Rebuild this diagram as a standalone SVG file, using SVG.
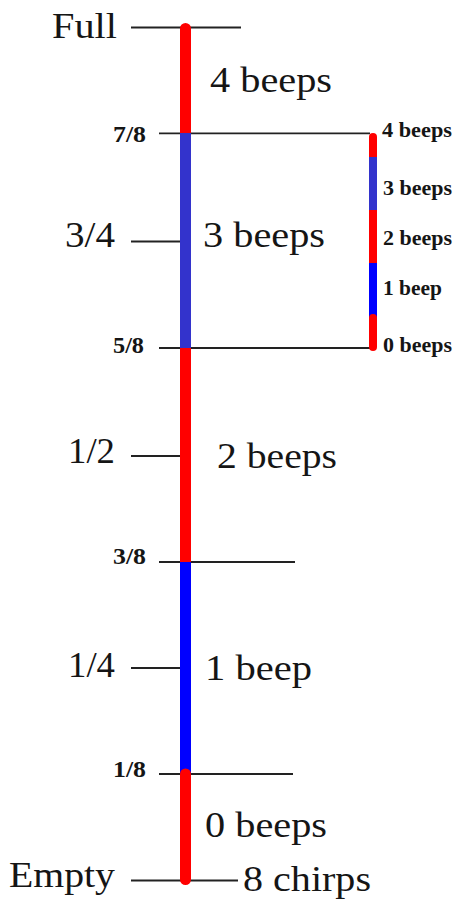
<svg xmlns="http://www.w3.org/2000/svg" width="458" height="899" viewBox="0 0 458 899">
<style>
.t{font-family:"Liberation Serif","Times New Roman",serif;fill:#151515}
.big{font-size:36px}
.mid{font-size:35px}
.sm{font-size:24px;font-weight:bold}
.xs{font-size:20px;font-weight:bold}
.tick{stroke:#222;stroke-width:1.8;fill:none}
</style>
<rect width="458" height="899" fill="#fff"/>
<g id="connectors">
<line class="tick" x1="131" y1="27.5" x2="241" y2="27.5"/>
<line class="tick" x1="159" y1="133.3" x2="370" y2="133.3"/>
<line class="tick" x1="131" y1="241.5" x2="182" y2="241.5"/>
<line class="tick" x1="159" y1="348" x2="370" y2="348"/>
<line class="tick" x1="131" y1="456" x2="182" y2="456"/>
<line class="tick" x1="159" y1="562" x2="295" y2="562"/>
<line class="tick" x1="131" y1="668" x2="182" y2="668"/>
<line class="tick" x1="159" y1="774" x2="293" y2="774"/>
<line class="tick" x1="131" y1="880.5" x2="238" y2="880.5"/>
</g>
<g id="main-bar">
<line x1="185.5" y1="28.5" x2="185.5" y2="133" stroke="#ff0000" stroke-width="11" stroke-linecap="round"/>
<line x1="185.5" y1="133" x2="185.5" y2="348" stroke="#3333cc" stroke-width="11"/>
<line x1="185.5" y1="348" x2="185.5" y2="562" stroke="#ff0000" stroke-width="11"/>
<line x1="185.5" y1="562" x2="185.5" y2="774" stroke="#0000ff" stroke-width="11"/>
<line x1="185.5" y1="774" x2="185.5" y2="879.5" stroke="#ff0000" stroke-width="11" stroke-linecap="round"/>
</g>
<g id="small-bar">
<line x1="373" y1="137" x2="373" y2="157" stroke="#ff0000" stroke-width="8" stroke-linecap="round"/>
<line x1="373" y1="157" x2="373" y2="210" stroke="#3333cc" stroke-width="8"/>
<line x1="373" y1="210" x2="373" y2="263" stroke="#ff0000" stroke-width="8"/>
<line x1="373" y1="263" x2="373" y2="318" stroke="#0000ff" stroke-width="8"/>
<line x1="373" y1="318" x2="373" y2="347" stroke="#ff0000" stroke-width="8" stroke-linecap="round"/>
</g>
<g id="labels-left">
<text class="t big" x="52" y="38" textLength="65" lengthAdjust="spacingAndGlyphs">Full</text>
<text class="t sm" x="113" y="142" textLength="33" lengthAdjust="spacingAndGlyphs">7/8</text>
<text class="t mid" x="65" y="247" textLength="50" lengthAdjust="spacingAndGlyphs">3/4</text>
<text class="t sm" x="113" y="353" textLength="31" lengthAdjust="spacingAndGlyphs">5/8</text>
<text class="t mid" x="68" y="463" textLength="47" lengthAdjust="spacingAndGlyphs">1/2</text>
<text class="t sm" x="113" y="564" textLength="33" lengthAdjust="spacingAndGlyphs">3/8</text>
<text class="t mid" x="68" y="677" textLength="47" lengthAdjust="spacingAndGlyphs">1/4</text>
<text class="t sm" x="113" y="777" textLength="33" lengthAdjust="spacingAndGlyphs">1/8</text>
<text class="t big" x="9" y="887" textLength="106" lengthAdjust="spacingAndGlyphs">Empty</text>
</g>
<g id="labels-main">
<text class="t mid" x="210" y="92" textLength="122" lengthAdjust="spacingAndGlyphs">4 beeps</text>
<text class="t mid" x="203" y="247" textLength="122" lengthAdjust="spacingAndGlyphs">3 beeps</text>
<text class="t mid" x="217" y="468" textLength="120" lengthAdjust="spacingAndGlyphs">2 beeps</text>
<text class="t mid" x="205" y="680" textLength="107" lengthAdjust="spacingAndGlyphs">1 beep</text>
<text class="t mid" x="205" y="837" textLength="122" lengthAdjust="spacingAndGlyphs">0 beeps</text>
<text class="t mid" x="243" y="891" textLength="128" lengthAdjust="spacingAndGlyphs">8 chirps</text>
</g>
<g id="labels-small">
<text class="t xs" x="382" y="137" textLength="70" lengthAdjust="spacingAndGlyphs">4 beeps</text>
<text class="t xs" x="383" y="195" textLength="69" lengthAdjust="spacingAndGlyphs">3 beeps</text>
<text class="t xs" x="383" y="245" textLength="69" lengthAdjust="spacingAndGlyphs">2 beeps</text>
<text class="t xs" x="383" y="295" textLength="59" lengthAdjust="spacingAndGlyphs">1 beep</text>
<text class="t xs" x="383" y="352" textLength="69" lengthAdjust="spacingAndGlyphs">0 beeps</text>
</g>
</svg>
